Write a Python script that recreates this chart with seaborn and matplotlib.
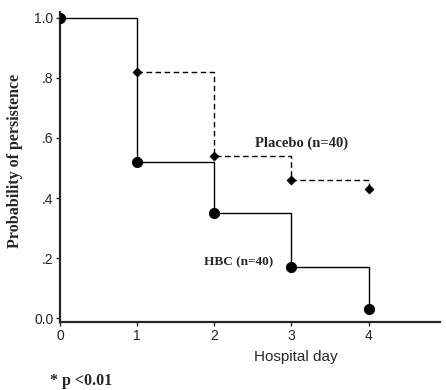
import numpy as np
import pandas as pd
import matplotlib
matplotlib.use("Agg")
import matplotlib.pyplot as plt
import seaborn as sns

# Kaplan-Meier style persistence estimates
hbc_days = [0, 1, 2, 3, 4]
hbc_prob = [1.0, 0.52, 0.35, 0.17, 0.03]
placebo_days = [1, 2, 3, 4]
placebo_prob = [0.82, 0.54, 0.46, 0.43]

y_ticks = [0.0, 0.2, 0.4, 0.6, 0.8, 1.0]
y_tick_labels = ["0.0", ".2", ".4", ".6", ".8", "1.0"]
x_ticks = [0, 1, 2, 3, 4]

hbc = pd.DataFrame({"day": hbc_days, "prob": hbc_prob})
placebo = pd.DataFrame({"day": placebo_days, "prob": placebo_prob})

sns.set_style("ticks")
plt.rcParams["font.family"] = ["Liberation Sans", "DejaVu Sans"]

fig = plt.figure(figsize=(4.46, 3.9), dpi=100)
ax = fig.add_axes([0.135, 0.174, 0.852, 0.796])

# solid HBC curve incl. the shared first segment
sns.lineplot(data=hbc, x="day", y="prob", ax=ax, color="black",
             linewidth=1.0, drawstyle="steps-post", estimator=None, sort=False)
sns.lineplot(data=placebo, x="day", y="prob", ax=ax, color="black",
             linewidth=1.0, linestyle=(0, (4, 2.5)), drawstyle="steps-post",
             estimator=None, sort=False)

sns.scatterplot(data=hbc, x="day", y="prob", ax=ax, marker="o", s=55,
                color="black", edgecolor="black", zorder=5)
sns.scatterplot(data=placebo, x="day", y="prob", ax=ax, marker="D", s=22,
                color="black", edgecolor="black", zorder=5)

ax.set_xlim(0, 4.93)
ax.set_ylim(-0.013, 1.02)
ax.set_xticks(x_ticks)
ax.set_xticklabels([str(d) for d in x_ticks], fontsize=10)
ax.set_yticks(y_ticks)
ax.set_yticklabels(y_tick_labels, fontsize=10)
ax.tick_params(length=3, width=1, pad=2)

for side in ["top", "right"]:
    ax.spines[side].set_visible(False)
for side in ["left", "bottom"]:
    ax.spines[side].set_linewidth(1.6)

serif = ["Liberation Serif", "DejaVu Serif"]
ax.set_xlabel("Hospital day", fontsize=11, labelpad=5, x=0.62)
ax.set_ylabel("Probability of persistence", fontsize=11.5, fontweight="bold",
              family=serif, labelpad=8, y=0.52)

ax.text(2.53, 0.583, "Placebo (n=40)", fontsize=10.5, fontweight="bold",
        family=serif, va="center")
ax.text(1.86, 0.187, "HBC (n=40)", fontsize=9.5, fontweight="bold",
        family=serif, va="center")
fig.text(0.112, 0.022, "* p <0.01", fontsize=11.5, fontweight="bold",
         family=serif, va="center")

fig.savefig("out.png", dpi=100)
